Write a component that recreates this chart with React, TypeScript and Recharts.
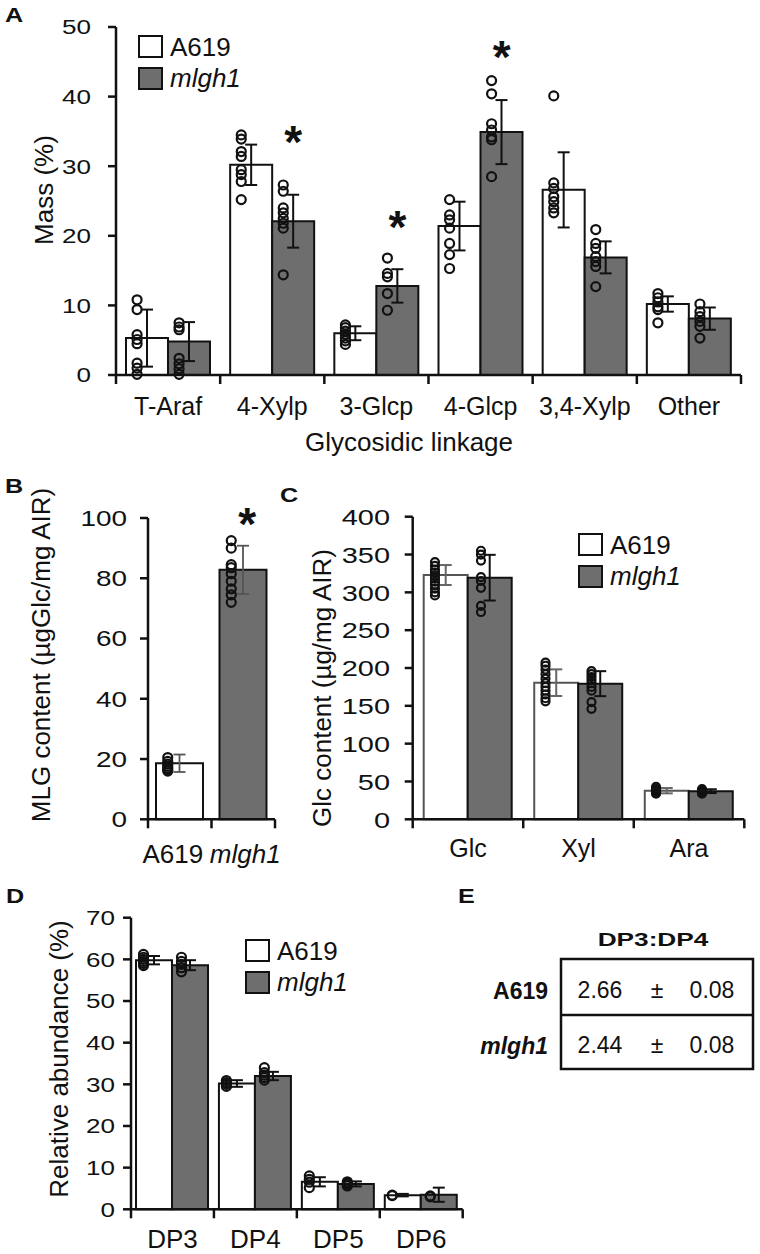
import React from 'react'
import { ComposedChart, Bar, Cell, ErrorBar, Scatter, XAxis, YAxis, Legend } from 'recharts'

const FONT = '"Liberation Sans", Arial, Helvetica, sans-serif'
const INK = '#111'
const GREY = '#6e6e6e'

const groups = ['A619', 'mlgh1']

// A: glycosidic linkage, mass %
const linkages = ['T-Araf', '4-Xylp', '3-Glcp', '4-Glcp', '3,4-Xylp', 'Other']
const linkWtMean = [5.3, 30.2, 6.0, 21.4, 26.6, 10.2]
const linkWtSd = [4.1, 2.9, 1.0, 3.5, 5.4, 1.1]
const linkMuMean = [4.8, 22.1, 12.8, 34.9, 16.9, 8.1]
const linkMuSd = [2.8, 3.8, 2.4, 4.6, 2.3, 1.6]
const linkWtPts = [
  [10.8, 9.4, 5.8, 5.1, 4.5, 1.7, 1.0, 0.1],
  [34.5, 33.9, 32.1, 31.4, 29.5, 28.8, 27.8, 25.2],
  [7.2, 6.8, 6.3, 5.8, 5.3, 4.9, 4.4],
  [25.2, 23.0, 22.3, 21.1, 18.9, 17.3, 15.3],
  [40.1, 27.6, 26.8, 25.6, 24.9, 24.0, 23.3],
  [11.7, 11.1, 10.5, 9.8, 9.4, 7.5],
]
const linkMuPts = [
  [7.5, 6.9, 6.5, 2.4, 1.6, 0.9, 0.1],
  [27.3, 26.4, 24.0, 23.3, 22.5, 21.8, 21.1, 14.4],
  [16.8, 14.6, 14.1, 11.7, 9.3],
  [42.3, 40.4, 36.1, 35.2, 34.2, 33.8, 28.5],
  [20.9, 18.9, 18.2, 17.0, 16.3, 15.6, 12.7],
  [10.2, 9.1, 8.4, 7.7, 7.0, 5.3],
]
const linkStar = [null, 34.8, 22.6, 47.0, null, null]
const massTicks = [0, 10, 20, 30, 40, 50]

// B: MLG content
const mlgMean = [18.6, 82.8]
const mlgSd = [2.9, 8.0]
const mlgPts = [
  [20.5, 19.2, 18.3, 17.6, 17.0, 16.5, 16.0],
  [92.5, 90.0, 84.5, 83.5, 81.5, 79.0, 76.5, 74.5, 72.0],
]
const mlgStar = [null, 100]
const mlgTicks = [0, 20, 40, 60, 80, 100]

// C: monosaccharide content
const sugars = ['Glc', 'Xyl', 'Ara']
const sugWtMean = [322.9, 180.6, 37.8]
const sugWtSd = [13.2, 17.6, 3.5]
const sugMuMean = [319.4, 179.3, 37.2]
const sugMuSd = [30.2, 16.5, 2.5]
const sugWtPts = [
  [340, 335, 330, 326, 322, 318, 314, 310, 305, 300, 296],
  [207, 203, 198, 192, 186, 180, 175, 170, 165, 160, 156],
  [43, 41, 39, 38, 37, 36, 35, 34],
]
const sugMuPts = [
  [355, 350, 342, 320, 315, 306, 282, 274],
  [196, 192, 188, 184, 180, 175, 170, 155, 146],
  [40, 38, 37, 36, 35, 34],
]
const sugTicks = [0, 50, 100, 150, 200, 250, 300, 350, 400]

// D: oligosaccharide abundance
const dps = ['DP3', 'DP4', 'DP5', 'DP6']
const dpWtMean = [59.8, 30.2, 6.6, 3.4]
const dpWtSd = [1.0, 0.8, 1.1, 0.3]
const dpMuMean = [58.6, 32.0, 6.1, 3.5]
const dpMuSd = [1.2, 1.0, 0.6, 1.7]
const dpWtPts = [
  [61.2, 60.5, 60.0, 59.5, 59.0, 58.5],
  [30.9, 30.4, 30.0, 29.5],
  [8.0, 7.2, 6.5, 5.2],
  [3.4, 3.3],
]
const dpMuPts = [
  [60.5, 59.5, 58.8, 58.0, 57.0],
  [34.0, 32.8, 32.2, 31.6, 31.0],
  [6.6, 6.2, 5.9, 5.6],
  [3.2, 3.0],
]
const dpTicks = [0, 10, 20, 30, 40, 50, 60, 70]

// E: DP3:DP4 ratio
const ratioMean = [2.66, 2.44]
const ratioSd = [0.08, 0.08]

const toRows = (cats: string[], wt: number[], wtSd: number[], mu: number[], muSd: number[]) =>
  cats.map((cat, i) => ({ cat, wt: wt[i], wtSd: wtSd[i], mu: mu[i], muSd: muSd[i] }))
const toDots = (cats: string[], pts: number[][]) => cats.flatMap((cat, i) => pts[i].map((v) => ({ cat, v })))
const toStars = (cats: string[], lv: (number | null)[]) =>
  cats.flatMap((cat, i) => (lv[i] == null ? [] : [{ cat, v: lv[i] }]))

const axisLine = { stroke: INK, strokeWidth: 2.5 }

const dot = (dx: number, r = 4.5) => (p: any) =>
  <circle cx={p.cx + dx} cy={p.cy} r={r} fill="none" stroke={INK} strokeWidth={2.2} />

const star = (dx: number, dy = 0) => (p: any) => (
  <text x={p.cx + dx} y={p.cy + 25 + dy} textAnchor="middle" fontSize={46} fontWeight="bold" fontFamily={FONT} fill={INK}>
    *
  </text>
)

function catTick(band: number, count: number, base: number, fs: number, nudge: number[] = []) {
  return (p: any) => {
    const { x, y, payload, index } = p
    return (
      <g>
        <line x1={x - band / 2} x2={x - band / 2} y1={y} y2={y + 9} stroke={INK} strokeWidth={2.5} />
        {index === count - 1 && <line x1={x + band / 2} x2={x + band / 2} y1={y} y2={y + 9} stroke={INK} strokeWidth={2.5} />}
        <text x={x + (nudge[index] ?? 0)} y={y + base} textAnchor="middle" fontSize={fs} fontFamily={FONT} fill={INK}
          fontStyle={payload.value === 'mlgh1' ? 'italic' : 'normal'}>
          {payload.value}
        </text>
      </g>
    )
  }
}

function numTick(fs: number) {
  return (p: any) => {
    const { x, y, payload } = p
    return (
      <text x={x} y={y + fs * 0.36} textAnchor="end" fontSize={fs} fontFamily={FONT} fill={INK}
        transform={`translate(${x} 0) scale(1.27 1) translate(${-x} 0)`}>
        {payload.value}
      </text>
    )
  }
}

const VTitle = ({ px, py, title }: any) => (
  <text x={px} y={py} transform={`rotate(-90 ${px} ${py})`} textAnchor="middle" fontSize={26} fontFamily={FONT} fill={INK}>
    {title}
  </text>
)

const HTitle = ({ px, py, title }: any) => (
  <text x={px} y={py} textAnchor="middle" fontSize={26} fontFamily={FONT} fill={INK}>{title}</text>
)

const LegendBox = () => (
  <div style={{ fontFamily: FONT, fontSize: 26, color: INK, lineHeight: 1 }}>
    {groups.map((g, i) => (
      <div key={g} style={{ display: 'flex', alignItems: 'center', height: 31.5 }}>
        <div style={{ width: 25, height: 23, boxSizing: 'border-box', border: `2.5px solid ${INK}`, background: i === 0 ? '#fff' : GREY }} />
        <span style={{ marginLeft: 7, fontStyle: i === 1 ? 'italic' : 'normal' }}>{g}</span>
      </div>
    ))}
  </div>
)

function GroupedPanel(props: {
  w: number; h: number; margin: any; rows: any[]; cats: string[]; domain: number[]; ticks: number[]
  barSize: number; tickMargin: number; yFs: number; xFs: number; xBase: number; r: number
  wtDots: any[]; muDots: any[]; stars?: any[]; wtDx: number; muDx: number
  yTitle: any; xTitle?: any; legendPos: { left: number; top: number }; wtStroke?: string; wtErr?: string
}) {
  const band = (props.w - props.margin.left - props.margin.right - 80) / props.cats.length
  return (
    <ComposedChart width={props.w} height={props.h} data={props.rows} margin={props.margin} barGap={0}>
      <XAxis dataKey="cat" allowDuplicatedCategory={false} interval={0} height={40} tickSize={0} tickMargin={0}
        tickLine={false} axisLine={axisLine} tick={catTick(band, props.cats.length, props.xBase, props.xFs)}
        label={props.xTitle} />
      <YAxis width={80} domain={props.domain} ticks={props.ticks} interval={0} tickSize={8} tickMargin={props.tickMargin}
        tickLine={axisLine} axisLine={axisLine} tick={numTick(props.yFs)} label={props.yTitle} />
      <Bar dataKey="wt" fill="#fff" stroke={props.wtStroke ?? INK} strokeWidth={2} barSize={props.barSize} isAnimationActive={false}>
        <ErrorBar dataKey="wtSd" width={6} stroke={props.wtErr ?? INK} strokeWidth={2} direction="y" />
      </Bar>
      <Bar dataKey="mu" fill={GREY} stroke={INK} strokeWidth={2} barSize={props.barSize} isAnimationActive={false}>
        <ErrorBar dataKey="muSd" width={6} stroke={INK} strokeWidth={2} direction="y" />
      </Bar>
      <Scatter data={props.wtDots} dataKey="v" shape={dot(props.wtDx, props.r)} isAnimationActive={false} />
      <Scatter data={props.muDots} dataKey="v" shape={dot(props.muDx, props.r)} isAnimationActive={false} />
      {props.stars && <Scatter data={props.stars} dataKey="v" shape={star(props.barSize / 2)} isAnimationActive={false} />}
      <Legend layout="vertical" align="center" verticalAlign="middle" content={() => <LegendBox />}
        wrapperStyle={{ left: props.legendPos.left, top: props.legendPos.top, width: 'auto' }} />
    </ComposedChart>
  )
}

function MlgPanel() {
  const rows = groups.map((cat, i) => ({ cat, mean: mlgMean[i], sd: mlgSd[i] }))
  const band = (300 - 68 - 25 - 80) / groups.length
  return (
    <ComposedChart width={300} height={400} data={rows} margin={{ top: 48, right: 25, bottom: 10.7, left: 68 }}>
      <XAxis dataKey="cat" allowDuplicatedCategory={false} interval={0} height={40} tickSize={0} tickMargin={0}
        tickLine={false} axisLine={axisLine} tick={catTick(band, 2, 44, 26, [-7, 2])} />
      <YAxis width={80} domain={[0, 100]} ticks={mlgTicks} interval={0} tickSize={8} tickMargin={13}
        tickLine={axisLine} axisLine={axisLine} tick={numTick(22)}
        label={<VTitle px={50} py={185} title="MLG content (µgGlc/mg AIR)" />} />
      <Bar dataKey="mean" stroke={INK} strokeWidth={2} barSize={47} isAnimationActive={false}>
        {rows.map((r, i) => <Cell key={r.cat} fill={i === 0 ? '#fff' : GREY} />)}
        <ErrorBar dataKey="sd" width={6} stroke="#555" strokeWidth={1.8} direction="y" />
      </Bar>
      <Scatter data={toDots(groups, mlgPts)} dataKey="v" shape={dot(-12)} isAnimationActive={false} />
      <Scatter data={toStars(groups, mlgStar)} dataKey="v" shape={star(4, -3)} isAnimationActive={false} />
    </ComposedChart>
  )
}

const Letter = ({ x, y, t }: any) => (
  <text x={x} y={y} transform={`translate(${x} 0) scale(1.2 1) translate(${-x} 0)`}>{t}</text>
)

const Overlay = () => (
  <svg width={760} height={1254} style={{ position: 'absolute', left: 0, top: 0, pointerEvents: 'none' }}
    fontFamily={FONT} fill={INK}>
    <g fontSize={21} fontWeight="bold">
      <Letter x={5} y={22} t="A" />
      <Letter x={5} y={493} t="B" />
      <Letter x={280} y={502} t="C" />
      <Letter x={6} y={903} t="D" />
      <Letter x={458} y={903} t="E" />
    </g>
    <text x={653} y={946} textAnchor="middle" fontSize={19} fontWeight="bold"
      transform="translate(653 0) scale(1.38 1) translate(-653 0)">DP3:DP4</text>
    <rect x={561} y={959} width={192} height={110} fill="none" stroke={INK} strokeWidth={2.5} />
    <line x1={561} x2={753} y1={1015} y2={1015} stroke={INK} strokeWidth={2.5} />
    {groups.map((g, i) => {
      const base = i === 0 ? 998 : 1053
      return (
        <g key={g} fontSize={23}>
          <text x={548} y={base + 1} textAnchor="end" fontWeight="bold" fontStyle={i === 1 ? 'italic' : 'normal'}>{g}</text>
          <text x={600} y={base} textAnchor="middle">{ratioMean[i].toFixed(2)}</text>
          <text x={657} y={base} textAnchor="middle">±</text>
          <text x={712} y={base} textAnchor="middle">{ratioSd[i].toFixed(2)}</text>
        </g>
      )
    })}
  </svg>
)

export default function App() {
  return (
    <div style={{ position: 'absolute', left: 0, top: 0, width: 760, height: 1254, background: '#fff', fontFamily: FONT }}>
      <div style={{ position: 'absolute', left: 0, top: 0 }}>
        <GroupedPanel w={760} h={460} margin={{ top: 27, right: 19, bottom: 45, left: 36 }}
          rows={toRows(linkages, linkWtMean, linkWtSd, linkMuMean, linkMuSd)} cats={linkages}
          domain={[0, 50]} ticks={massTicks} barSize={42} tickMargin={17} yFs={20.5} xFs={25} xBase={40} r={4.5}
          wtDots={toDots(linkages, linkWtPts)} muDots={toDots(linkages, linkMuPts)} stars={toStars(linkages, linkStar)}
          wtDx={-31} muDx={11}
          yTitle={<VTitle px={53} py={190} title="Mass (%)" />}
          xTitle={<HTitle px={409} py={451} title="Glycosidic linkage" />}
          legendPos={{ left: 138, top: 31 }} />
      </div>
      <div style={{ position: 'absolute', left: 0, top: 470 }}>
        <MlgPanel />
      </div>
      <div style={{ position: 'absolute', left: 300, top: 470 }}>
        <GroupedPanel w={460} h={400} margin={{ top: 46.7, right: 15.7, bottom: 10.7, left: 32.7 }}
          rows={toRows(sugars, sugWtMean, sugWtSd, sugMuMean, sugMuSd)} cats={sugars}
          domain={[0, 400]} ticks={sugTicks} barSize={44} tickMargin={14.7} yFs={22.8} xFs={25} xBase={38} r={4}
          wtDots={toDots(sugars, sugWtPts)} muDots={toDots(sugars, sugMuPts)}
          wtDx={-33} muDx={13} wtStroke="#555" wtErr="#666"
          yTitle={<VTitle px={31} py={218} title="Glc content (µg/mg AIR)" />}
          legendPos={{ left: 278, top: 59 }} />
      </div>
      <div style={{ position: 'absolute', left: 0, top: 860 }}>
        <GroupedPanel w={470} h={394} margin={{ top: 57.7, right: 7.3, bottom: 4.7, left: 51 }}
          rows={toRows(dps, dpWtMean, dpWtSd, dpMuMean, dpMuSd)} cats={dps}
          domain={[0, 70]} ticks={dpTicks} barSize={36} tickMargin={8} yFs={20.5} xFs={26} xBase={39} r={4.5}
          wtDots={toDots(dps, dpWtPts)} muDots={toDots(dps, dpMuPts)}
          wtDx={-29} muDx={9}
          yTitle={<VTitle px={68} py={199} title="Relative abundance (%)" />}
          legendPos={{ left: 245, top: 75 }} />
      </div>
      <Overlay />
    </div>
  )
}
